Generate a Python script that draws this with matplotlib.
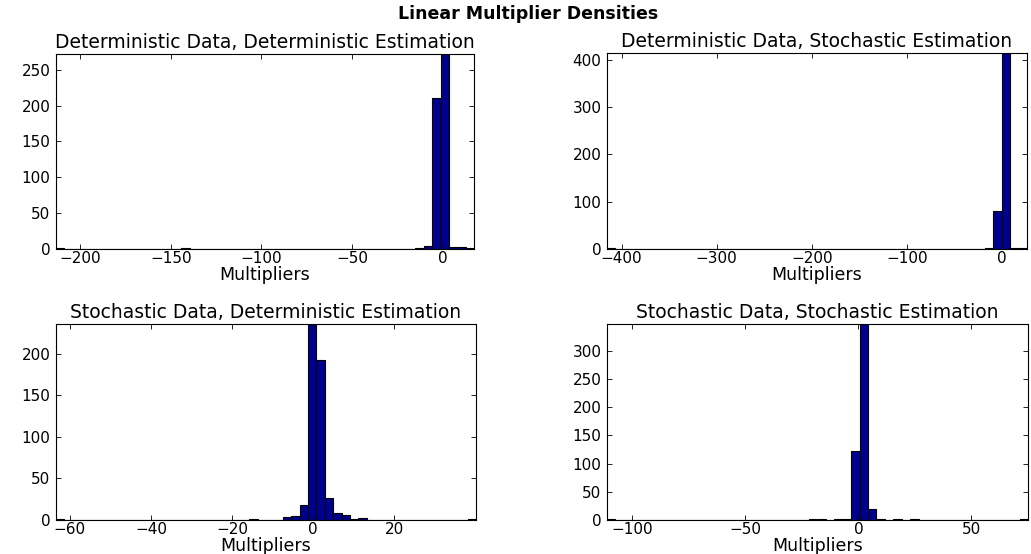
import numpy as np
import matplotlib
matplotlib.use("Agg")
import matplotlib.pyplot as plt

# ---- data (50 equal-width bins per panel) ----
titles = [
    "Deterministic Data, Deterministic Estimation",
    "Deterministic Data, Stochastic Estimation",
    "Stochastic Data, Deterministic Estimation",
    "Stochastic Data, Stochastic Estimation",
]

# data ranges (min, max) of each histogram
ranges_dd = (-213.4, 17.3)
ranges_ds = (-415.4, 26.3)
ranges_sd = (-63.4, 40.1)
ranges_ss = (-111.2, 75.0)

counts_dd = [1, 0, 0, 0, 0, 0, 0, 0, 0, 0,
             0, 0, 0, 0, 0, 1, 0, 0, 0, 0,
             0, 0, 0, 0, 0, 0, 0, 0, 0, 0,
             0, 0, 0, 0, 0, 0, 0, 0, 0, 0,
             0, 0, 0, 2, 4, 210, 272, 3, 3, 2]
counts_ds = [2, 0, 0, 0, 0, 0, 0, 0, 0, 0,
             0, 0, 0, 0, 0, 0, 0, 0, 0, 0,
             0, 0, 0, 0, 0, 0, 0, 0, 0, 0,
             0, 0, 0, 0, 0, 0, 0, 0, 0, 0,
             0, 0, 1, 0, 0, 3, 80, 414, 3, 2]
counts_sd = [1, 0, 0, 0, 0, 0, 0, 0, 0, 0,
             0, 0, 0, 0, 0, 0, 0, 0, 0, 0,
             0, 0, 0, 1, 0, 0, 0, 4, 5, 18,
             236, 193, 27, 9, 6, 1, 2, 0, 0, 0,
             0, 0, 0, 0, 0, 0, 0, 0, 0, 1]
counts_ss = [1, 0, 0, 0, 0, 0, 0, 0, 0, 0,
             0, 0, 0, 0, 0, 0, 0, 0, 0, 0,
             0, 0, 0, 0, 1, 2, 0, 2, 2, 122,
             347, 19, 2, 0, 1, 0, 1, 0, 0, 0,
             0, 0, 0, 0, 0, 0, 0, 0, 0, 1]

xticks_dd = [-200, -150, -100, -50, 0]
xticks_ds = [-400, -300, -200, -100, 0]
xticks_sd = [-60, -40, -20, 0, 20]
xticks_ss = [-100, -50, 0, 50]

yticks_dd = [0, 50, 100, 150, 200, 250]
yticks_ds = [0, 100, 200, 300, 400]
yticks_sd = [0, 50, 100, 150, 200]
yticks_ss = [0, 50, 100, 150, 200, 250, 300]

xlabel = "Multipliers"
suptitle = "Linear Multiplier Densities"

# ---- figure ----
plt.rcParams['font.family'] = ['DejaVu Sans']
W, H = 1031, 554
fig = plt.figure(figsize=(W / 100, H / 100), dpi=100)

# axes boxes in pixels: (left, top, right, bottom)
boxes = [(56, 54, 474, 249), (607, 53, 1027, 249),
         (56, 324, 476, 520), (607, 324, 1028, 520)]

panels = [
    (ranges_dd, counts_dd, xticks_dd, yticks_dd),
    (ranges_ds, counts_ds, xticks_ds, yticks_ds),
    (ranges_sd, counts_sd, xticks_sd, yticks_sd),
    (ranges_ss, counts_ss, xticks_ss, yticks_ss),
]

bar_color = (0.0, 0.0, 0.56)

for (l, t, r, b), title, (rng, counts, xt, yt) in zip(boxes, titles, panels):
    ax = fig.add_axes([l / W, 1 - b / H, (r - l) / W, (b - t) / H])
    edges = np.linspace(rng[0], rng[1], len(counts) + 1)
    ax.hist(edges[:-1], bins=edges, weights=counts, color=bar_color,
            edgecolor='black', linewidth=0.8)
    ax.set_xlim(rng[0], rng[1])
    ax.set_ylim(0, max(counts))
    ax.set_xticks(xt)
    ax.set_yticks(yt)
    ax.tick_params(direction='in', length=3.5, width=0.6, top=True, right=True,
                   labelsize=11)
    ax.tick_params(axis='x', pad=1.5)
    ax.tick_params(axis='y', pad=4)
    for s in ax.spines.values():
        s.set_linewidth(0.8)
    ax.set_title(title, fontsize=13.5, pad=4)
    ax.set_xlabel(xlabel, fontsize=12.5, va='top')
    ax.xaxis.set_label_coords(0.5, -17 / (b - t))

fig.text(528 / W, 1 - 14 / H, suptitle, ha='center', va='center',
         fontsize=12.5, fontweight='bold')

fig.savefig("out.png", dpi=100)
